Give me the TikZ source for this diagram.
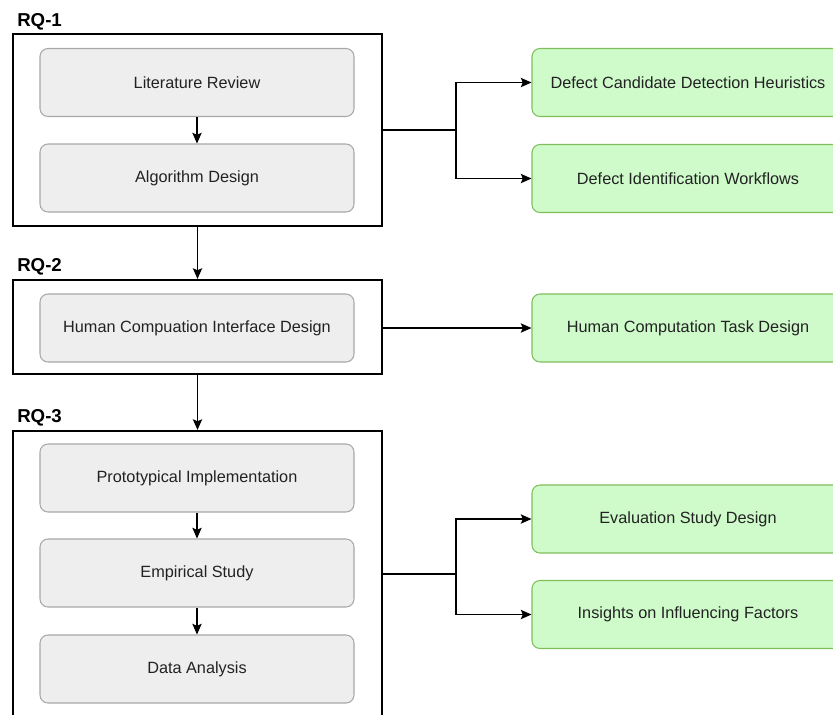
\documentclass[tikz,border=0pt]{standalone}
\usepackage{fontspec}
\setmainfont{Liberation Sans}
\usetikzlibrary{arrows.meta}
\definecolor{grayfill}{HTML}{EEEEEE}
\definecolor{graydraw}{HTML}{A8A8A8}
\definecolor{greenfill}{HTML}{CFFBCB}
\definecolor{greendraw}{HTML}{7FBF5A}
\definecolor{txt}{HTML}{222222}
\tikzset{
  graybox/.style={draw=graydraw, fill=grayfill, line width=0.8pt, rounded corners=6pt,
    minimum width=314*0.75pt, minimum height=68*0.75pt, inner sep=0pt,
    font=\fontsize{12.2pt}{14pt}\selectfont, text=txt},
  greenbox/.style={draw=greendraw, fill=greenfill, line width=0.8pt, rounded corners=6pt,
    minimum width=312*0.75pt, minimum height=68*0.75pt, inner sep=0pt,
    font=\fontsize{12.2pt}{14pt}\selectfont, text=txt},
  rqbox/.style={draw=black, line width=1.6pt, minimum width=369*0.75pt, inner sep=0pt},
  rqlabel/.style={anchor=base west, inner sep=0pt, font=\fontsize{14pt}{16pt}\selectfont\bfseries},
  conn/.style={draw=black, line width=0.9pt},
  arr/.style={conn, -{Stealth[length=8pt,width=7pt,inset=1.5pt]}}
}
\begin{document}
\begin{tikzpicture}[x=0.75pt,y=-0.75pt]
\useasboundingbox (0,0) rectangle (833,715);
\clip (0,0) rectangle (833,715);
% RQ boxes
\node[rqbox, minimum height=192*0.75pt] (rq1) at (197.5,130) {};
\node[rqbox, minimum height=94*0.75pt] (rq2) at (197.5,327) {};
\node[rqbox, minimum height=286*0.75pt] (rq3) at (197.5,574) {};
\node[rqlabel] (l1) at (17,26) {RQ-1};
\node[rqlabel] (l2) at (17,271) {RQ-2};
\node[rqlabel] (l3) at (17,422) {RQ-3};
% gray boxes
\node[graybox] (lit) at (197,82.5) {Literature Review};
\node[graybox] (alg) at (197,178) {Algorithm Design};
\node[graybox] (hci) at (197,328) {Human Compuation Interface Design};
\node[graybox] (proto) at (197,478) {Prototypical Implementation};
\node[graybox] (emp) at (197,573) {Empirical Study};
\node[graybox] (data) at (197,669) {Data Analysis};
% green boxes
\node[greenbox] (g1) at (688,82.5) {Defect Candidate Detection Heuristics};
\node[greenbox] (g2) at (688,178.5) {Defect Identification Workflows};
\node[greenbox] (g3) at (688,328) {Human Computation Task Design};
\node[greenbox] (g4) at (688,519) {Evaluation Study Design};
\node[greenbox] (g5) at (688,614.5) {Insights on Influencing Factors};
% inner arrows
\draw[arr] (lit) -- (alg);
\draw[arr] (proto) -- (emp);
\draw[arr] (emp) -- (data);
\draw[arr] (rq1) -- (rq2);
\draw[arr] (rq2) -- (rq3);
% outputs
\coordinate (s1) at (456,130);
\draw[conn] (rq1.east) -- (s1);
\draw[arr] (s1) |- (g1.west);
\draw[arr] (s1) |- (g2.west);
\draw[arr] (rq2.east |- g3.west) -- (g3.west);
\coordinate (s3) at (456,574);
\draw[conn] (rq3.east) -- (s3);
\draw[arr] (s3) |- (g4.west);
\draw[arr] (s3) |- (g5.west);
\end{tikzpicture}
\end{document}
